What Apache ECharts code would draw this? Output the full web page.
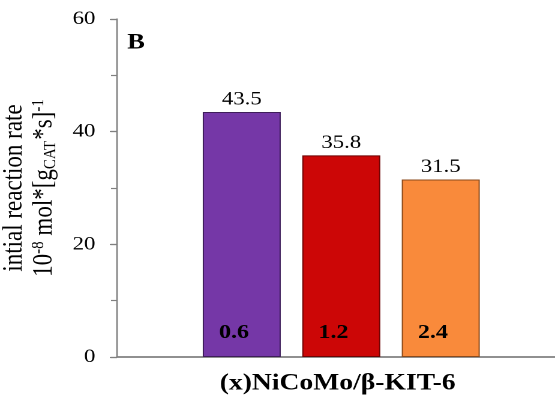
<!DOCTYPE html>
<html>
<head>
<meta charset="utf-8">
<script src="https://cdn.jsdelivr.net/npm/echarts@6/dist/echarts.min.js"></script>
<style>
  html, body { margin: 0; padding: 0; background: #fff; overflow: hidden; }
  #wrap { width: 555px; height: 398px; overflow: hidden; }
  /* the figure is laid out on a narrower canvas and widened to 555px */
  #chart { width: 462.5px; height: 398px; transform: scaleX(1.2); transform-origin: 0 0; }
</style>
</head>
<body>
<div id="wrap"><div id="chart"></div></div>
<script>
// Metal loading (x) of each catalyst and its initial reaction rate
const categories = ['0.6', '1.2', '2.4'];
const rates = [43.5, 35.8, 31.5];
const barColors = ['#7537a7', '#cc0606', '#f98a3b'];
const barEdges = ['#3e1d5a', '#6e0303', '#8a4a1c'];
const yTicks = [0, 20, 40, 60];

const serif = '"Liberation Serif", "Times New Roman", serif';
const axisGrey = '#808080';
const textColor = '#000';

const chart = echarts.init(document.getElementById('chart'), null, { renderer: 'canvas', devicePixelRatio: 2 });

chart.setOption({
  animation: false,
  title: {
    text: 'B',
    left: 106,
    top: 32,
    padding: 0,
    textStyle: { fontFamily: serif, fontWeight: 'bold', fontSize: 22, color: '#000' }
  },
  grid: [
    // frame: y axis, bottom axis and top border
    { left: 97.5, top: 19, right: -20, bottom: 41, outerBoundsMode: 'none', containLabel: false },
    // bars
    { left: 160, top: 19, width: 248.75, bottom: 41, outerBoundsMode: 'none', containLabel: false }
  ],
  xAxis: [
    {
      gridIndex: 0, type: 'value', min: 0, max: 1, position: 'bottom',
      axisLine: { show: true, lineStyle: { color: axisGrey, width: 1.5 } },
      axisTick: { show: false }, axisLabel: { show: false }, splitLine: { show: false }
    },
    {
      gridIndex: 0, type: 'value', min: 0, max: 1, position: 'top',
      axisLine: { show: true, lineStyle: { color: axisGrey, width: 1.5 } },
      axisTick: { show: false }, axisLabel: { show: false }, splitLine: { show: false }
    },
    {
      gridIndex: 1, type: 'category', data: categories, z: 10,
      axisLine: { show: false }, axisTick: { show: false },
      axisLabel: {
        inside: true, margin: 14, color: '#000',
        fontFamily: serif, fontWeight: 'bold', fontSize: 20,
        padding: [0, 13, 0, 0]
      },
      name: '(x)NiCoMo/β-KIT-6',
      nameLocation: 'middle',
      nameGap: 15,
      nameTextStyle: { fontFamily: serif, fontWeight: 'bold', fontSize: 23, color: '#000', padding: [0, 6, 0, 0] }
    }
  ],
  yAxis: [
    {
      gridIndex: 0, type: 'value', min: 0, max: 60, interval: 20,
      axisLine: { show: true, lineStyle: { color: axisGrey, width: 1.3 } },
      axisTick: { show: true, inside: false, length: 6, lineStyle: { color: axisGrey, width: 1.2 } },
      axisLabel: {
        margin: 18, color: textColor, fontFamily: serif, fontSize: 19,
        formatter: v => (yTicks.includes(v) ? String(v) : '')
      },
      splitLine: { show: false },
      name: '{a|intial reaction rate}\n{b|10}{sup|-8}{b| mol*[g}{sub|CAT}{b|*s]}{sup|-1}',
      nameLocation: 'middle',
      nameGap: 32,
      nameRotate: 90,
      nameTextStyle: {
        color: textColor,
        fontFamily: serif,
        lineHeight: 25,
        rich: {
          a: { fontFamily: serif, fontSize: 23, color: textColor, lineHeight: 25 },
          b: { fontFamily: serif, fontSize: 23, color: textColor, lineHeight: 25 },
          sup: { fontFamily: serif, fontSize: 15, color: textColor, verticalAlign: 'top', padding: [0, 0, 10, 0], lineHeight: 25 },
          sub: { fontFamily: serif, fontSize: 15, color: textColor, verticalAlign: 'bottom', padding: [8, 1, 0, 0], lineHeight: 25 }
        }
      }
    },
    {
      // short inner ticks every 10 units
      gridIndex: 0, type: 'value', min: 0, max: 60, interval: 10,
      axisLine: { show: false },
      axisTick: { show: true, inside: true, length: 5, lineStyle: { color: axisGrey, width: 1.2 } },
      axisLabel: { show: false }, splitLine: { show: false }
    },
    {
      gridIndex: 1, type: 'value', min: 0, max: 60, show: false
    }
  ],
  series: [
    {
      type: 'bar',
      xAxisIndex: 2,
      yAxisIndex: 2,
      barWidth: 65,
      data: rates.map((v, i) => ({
        value: v,
        itemStyle: {
          color: barColors[i],
          borderColor: barEdges[i],
          borderWidth: 1
        }
      })),
      label: {
        show: true,
        position: 'top',
        distance: 3,
        color: textColor,
        fontFamily: serif,
        fontSize: 19,
        formatter: p => p.value.toFixed(1)
      }
    }
  ]
});
</script>
</body>
</html>
